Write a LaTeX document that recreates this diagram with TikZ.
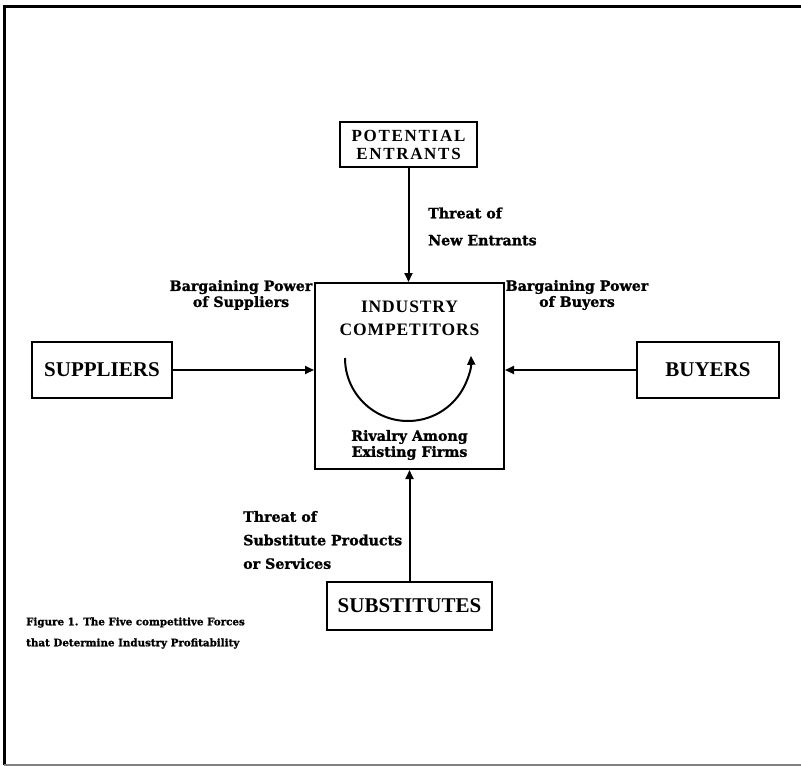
\documentclass[tikz,border=0pt]{standalone}
\usepackage{fontspec}
\setmainfont{Liberation Serif}
\newfontfamily\lblfont[FakeBold=1.2]{DejaVu Serif}
\usetikzlibrary{arrows.meta}
\begin{document}
\begin{tikzpicture}[x=1pt,y=-1pt,
  box/.style={draw, line width=2pt, inner sep=0pt, align=center},
  bigtxt/.style={font=\bfseries\fontsize{21}{22}\selectfont},
  lbl/.style={font=\lblfont\bfseries\fontsize{14.2}{#1}\selectfont, inner sep=0pt},
  captxt/.style={font=\lblfont\bfseries\fontsize{10.3}{21}\selectfont, inner sep=0pt, align=left},
  arr/.style={line width=2pt, -{Triangle[length=9pt,width=8pt]}},
]
\useasboundingbox (0,0) rectangle (801,766);
\draw[line width=3pt] (4,765) -- (4,6) -- (801,6);
\draw[gray, line width=1.2pt] (4,765) -- (801,765);

% boxes
\node[box, font=\bfseries\addfontfeatures{LetterSpace=10}\fontsize{17}{18}\selectfont, minimum width=137pt, minimum height=45pt] (pe) at (408.5,144.5) {POTENTIAL\\ENTRANTS};
\node[box, minimum width=189pt, minimum height=186pt] (ind) at (409.5,376) {};
\node[box, bigtxt, minimum width=140pt, minimum height=56pt] (sup) at (102,370) {SUPPLIERS};
\node[box, bigtxt, minimum width=142pt, minimum height=56pt] (buy) at (708,370) {BUYERS};
\node[box, bigtxt, minimum width=165pt, minimum height=48pt] (sub) at (409.5,606) {SUBSTITUTES};

% inside industry box
\node[font=\bfseries\addfontfeatures{LetterSpace=5}\fontsize{17.5}{23}\selectfont, inner sep=0pt, align=center] (indtxt) at (409.5,318.5) {INDUSTRY\\COMPETITORS};
\node[lbl=16, align=center] (riv) at (409.5,445) {Rivalry Among\\Existing Firms};
\coordinate (arcstart) at (345,358);
\draw[line width=2pt, -{Triangle[length=9pt,width=8pt]}] (arcstart) arc[start angle=180, end angle=-2, radius=63];

% arrows
\draw[arr] (pe.south) -- (pe.south |- ind.north);
\draw[arr] (sup.east) -- (sup.east -| ind.west);
\draw[arr] (buy.west) -- (buy.west -| ind.east);
\draw[arr] (sub.north) -- (sub.north |- ind.south);

% labels
\node[lbl=27, align=left, anchor=west] (lpe) at (428,226.5) {Threat of\\New Entrants};
\node[lbl=16, align=center] (lsup) at (241,295) {Bargaining Power\\of Suppliers};
\node[lbl=16, align=center] (lbuy) at (577,295) {Bargaining Power\\of Buyers};
\node[lbl=23.5, align=left, anchor=west] (lsub) at (243,540) {Threat of\\Substitute Products\\or Services};
\node[captxt, anchor=west] (caption) at (26,633) {Figure 1. The Five competitive Forces\\that Determine Industry Profitability};
\end{tikzpicture}
\end{document}
